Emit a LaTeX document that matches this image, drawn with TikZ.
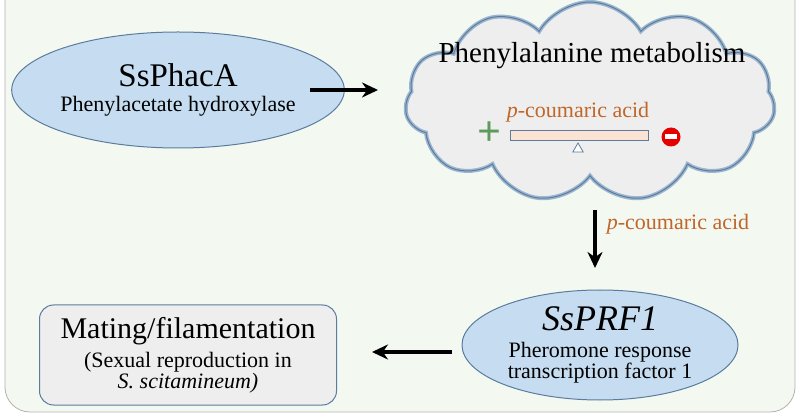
\documentclass[tikz,border=0pt]{standalone}
\usepackage{fontspec}
\setmainfont{Liberation Serif}
\usetikzlibrary{shapes.symbols,shapes.geometric,arrows.meta}
\definecolor{bg}{HTML}{F3F8F1}
\definecolor{ell}{HTML}{C6DDF1}
\definecolor{edge}{HTML}{5C7C9E}
\definecolor{grayf}{HTML}{EEEEEE}
\definecolor{orng}{HTML}{C0662A}
\definecolor{barf}{HTML}{FBE3D4}
\definecolor{plusg}{HTML}{5E9A5E}
\newcommand{\bigtxt}{\fontsize{33}{38}\selectfont}
\newcommand{\smltxt}{\fontsize{22}{25}\selectfont}
\begin{document}
\begin{tikzpicture}[x=1pt,y=-1pt,
  ovalbox/.style={ellipse,draw=edge,fill=ell,line width=1pt,align=center,inner sep=0},
  arr/.style={-{Stealth[length=16pt,width=15pt]},line width=3.5pt},
  lab/.style={font=\fontsize{22}{25}\selectfont,text=orng},
  cl/.style={cloud,cloud puffs=11,cloud puff arc=120,aspect=1.9,minimum width=370,minimum height=200}]
\useasboundingbox (0,0) rectangle (800,419);
\fill[white] (0,0) rectangle (800,419);
\draw[fill=bg,draw=gray!60,line width=0.8pt,rounded corners=25pt] (5,-30) rectangle (795,412);
% SsPhacA
\node[ovalbox,minimum width=272,minimum height=116] (pha) at (178,90)
  {\bigtxt SsPhacA\\[9pt]\smltxt Phenylacetate hydroxylase};
% cloud
\node[cl,draw=ell!60!edge,line width=4pt,fill=grayf] (cl) at (590,102) {};
\node[cl,draw=edge,line width=1pt] (cl2) at (590,102) {};
\node[font=\fontsize{29}{34}\selectfont] (pm) at (592,56) {Phenylalanine metabolism};
\node[lab] (pc1) at (578,112) {\textit{p}-coumaric acid};
\node[draw=edge,fill=barf,line width=1pt,minimum width=138,minimum height=10,inner sep=0] (bar) at (579,136) {};
\node[isosceles triangle,shape border rotate=90,draw=edge,fill=white,line width=0.8pt,minimum width=7,minimum height=9,inner sep=0,isosceles triangle apex angle=60] (tri) at (578,149) {};
\node[font=\fontsize{42}{42}\selectfont\bfseries,text=plusg,inner sep=0] (plus) at (489,134) {+};
\node[circle,fill=red!90!black,minimum size=19,inner sep=0] (minus) at (671,137) {};
\fill[white] ([xshift=-6pt,yshift=-2.5pt]minus.center) rectangle ([xshift=6pt,yshift=2.5pt]minus.center);
% SsPRF1
\coordinate (a1) at (595,210);
\node[ovalbox,minimum width=276,minimum height=110] (prf) at (600,345)
  {\fontsize{36}{40}\selectfont\textit{SsPRF1}\\[11pt]\smltxt Pheromone response\\\smltxt transcription factor 1};
\draw[arr] (a1) -- (595,268);
\node[lab] (pc2) at (678,224) {\textit{p}-coumaric acid};
% mating box
\node[draw=edge,fill=grayf,rounded corners=14pt,line width=1pt,minimum width=297,minimum height=100,align=center,inner sep=0] (mat) at (188,355)
  {\fontsize{30}{34}\selectfont Mating/filamentation\\[6pt]\smltxt (Sexual reproduction in\\\smltxt\textit{S. scitamineum)}};
\coordinate (a2) at (452,352);
\draw[arr] (a2) -- ([xshift=35pt]mat.east |- a2);
\coordinate (a4) at (310,90);
\draw[arr] (a4) -- (378,90);
\end{tikzpicture}
\end{document}
